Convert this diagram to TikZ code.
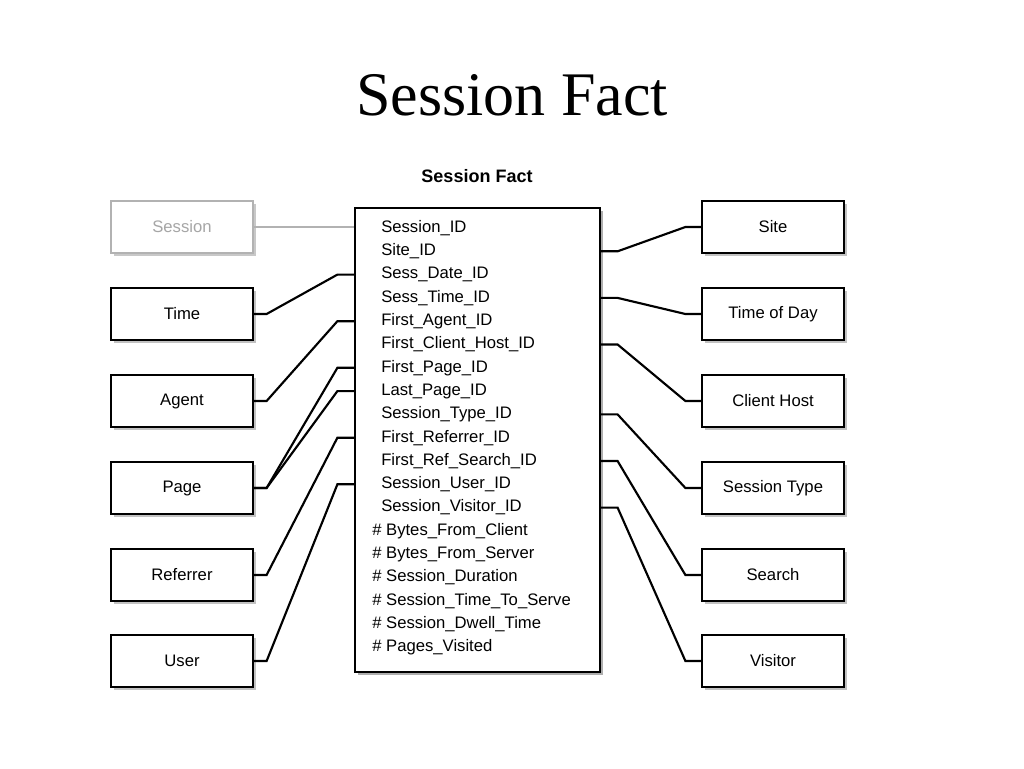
\documentclass[tikz,border=0pt]{standalone}
\usepackage{fontspec}
\setsansfont{Liberation Sans}
\newfontfamily\titlefont{Liberation Serif}
\usetikzlibrary{calc,shadows}

\tikzset{
  dimbox/.style={draw, line width=0.9pt, minimum width=106.5pt, minimum height=39pt,
    inner sep=0pt, fill=white, font=\sffamily\fontsize{12.5}{14}\selectfont,
    drop shadow={shadow xshift=2pt, shadow yshift=-2pt, fill=black!40, opacity=0.6}},
  fadedbox/.style={dimbox, draw=black!30, text=black!35,
    drop shadow={shadow xshift=2pt, shadow yshift=-2pt, fill=black!20, opacity=0.6}},
  field/.style={anchor=west, inner sep=0pt, text height=9pt, text depth=2.5pt,
    font=\sffamily\fontsize{12.5}{14}\selectfont},
  link/.style={line width=1.6pt},
}

\begin{document}
\begin{tikzpicture}[x=0.75pt, y=-0.75pt]
\useasboundingbox (0,0) rectangle (1024,768);

% titles
\node (title) at (512,95) {\titlefont\fontsize{46.5}{50}\selectfont Session Fact};
\node[font=\sffamily\bfseries\fontsize{13.5}{15}\selectfont] (caption) at (477,176) {Session Fact};

% fact table
\node[draw, line width=0.9pt, minimum width=183.75pt, minimum height=348pt, inner sep=0pt, fill=white,
  drop shadow={shadow xshift=2.5pt, shadow yshift=-2.5pt, fill=black!45, opacity=0.7}]
  (tbl) at (477.5,440) {};
\foreach \name [count=\i] in {Session\_ID, Site\_ID, Sess\_Date\_ID, Sess\_Time\_ID,
    First\_Agent\_ID, First\_Client\_Host\_ID, First\_Page\_ID, Last\_Page\_ID,
    Session\_Type\_ID, First\_Referrer\_ID, First\_Ref\_Search\_ID,
    Session\_User\_ID, Session\_Visitor\_ID}
  \node[field] (r\i) at (381,204.7+23.3*\i) {\name};
\foreach \name [count=\i from 14] in {Bytes\_From\_Client, Bytes\_From\_Server,
    Session\_Duration, Session\_Time\_To\_Serve, Session\_Dwell\_Time, Pages\_Visited}
  \node[field] (r\i) at (372,204.7+23.3*\i) {\# \name};

% dimensions, left
\node[fadedbox] (session) at (182,227) {Session};
\node[dimbox] (time) at (182,314) {Time};
\node[dimbox] (agent) at (182,401) {Agent};
\node[dimbox] (page) at (182,488) {Page};
\node[dimbox] (referrer) at (182,575) {Referrer};
\node[dimbox] (user) at (182,661) {User};

% dimensions, right
\node[dimbox] (site) at (773,227) {Site};
\node[dimbox] (tod) at (773,314) {Time of Day};
\node[dimbox] (host) at (773,401) {Client Host};
\node[dimbox] (stype) at (773,488) {Session Type};
\node[dimbox] (search) at (773,575) {Search};
\node[dimbox] (visitor) at (773,661) {Visitor};

% connectors
\draw[line width=1.4pt, black!30] (session.east) -- (tbl.west |- session);
\foreach \b/\r in {time/3, agent/5, page/7, page/8, referrer/10, user/12}
  \draw[link] (\b.east) -- ++(13,0) -- ($(tbl.west |- r\r)+(-17,0)$) -- (tbl.west |- r\r);
\foreach \b/\r in {site/2, tod/4, host/6, stype/9, search/11, visitor/13}
  \draw[link] (tbl.east |- r\r) -- ++(17,0) -- ($(\b.west)+(-16,0)$) -- (\b.west);
\end{tikzpicture}
\end{document}
